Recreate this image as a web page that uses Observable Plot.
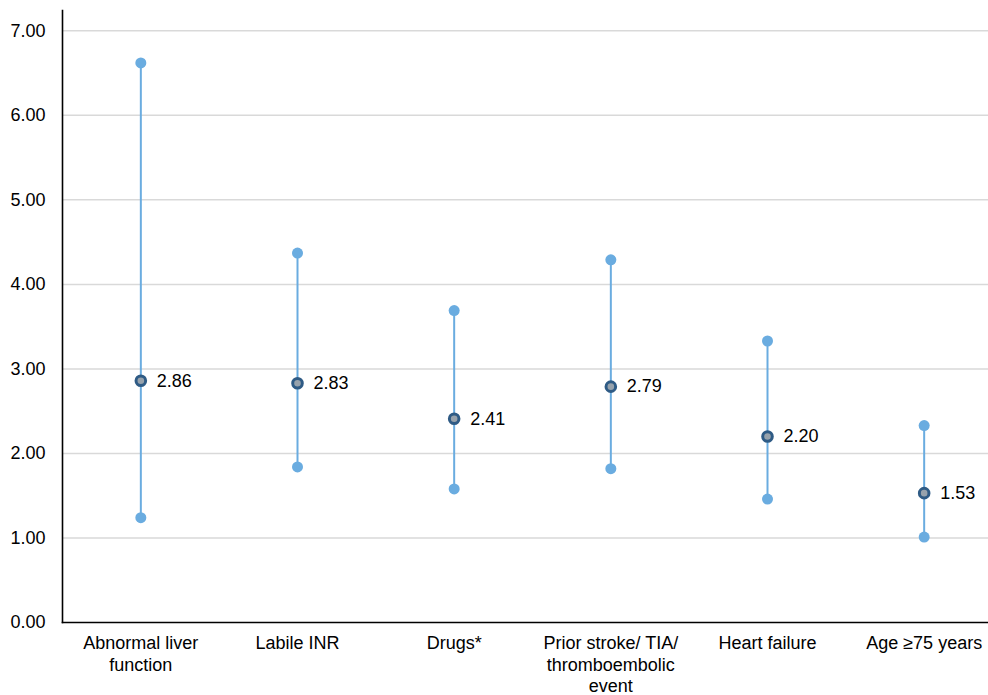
<!DOCTYPE html>
<html>
<head>
<meta charset="utf-8">
<script src="https://cdn.jsdelivr.net/npm/d3@7"></script>
<script src="https://cdn.jsdelivr.net/npm/@observablehq/plot@0.6"></script>
<style>
  html, body { margin: 0; padding: 0; background: #fff; }
  svg { font-family: "Liberation Sans", Arial, sans-serif; }
</style>
</head>
<body>
<div id="chart"></div>
<script>
const categories = ["Abnormal liver\nfunction", "Labile INR", "Drugs*", "Prior stroke/ TIA/\nthromboembolic\nevent", "Heart failure", "Age \u226575 years"];
const estimates = [2.86, 2.83, 2.41, 2.79, 2.20, 1.53];
const lower = [1.24, 1.84, 1.58, 1.82, 1.46, 1.01];
const upper = [6.62, 4.37, 3.69, 4.29, 3.33, 2.33];
const yTicks = [0, 1, 2, 3, 4, 5, 6, 7];

const data = categories.map((c, i) => ({cat: c, est: estimates[i], lo: lower[i], hi: upper[i]}));
const blue = "#6aace0";

const chart = Plot.plot({
  width: 988,
  height: 695,
  marginLeft: 62,
  marginRight: 0,
  marginTop: 10,
  marginBottom: 73,
  style: {fontFamily: "'Liberation Sans', Arial, sans-serif", fontSize: "18px", color: "#000", background: "#fff"},
  x: {type: "point", domain: categories, range: [62, 1002], padding: 0.5, round: false, label: null},
  y: {domain: [0, 7.24], label: null},
  marks: [
    Plot.ruleY(yTicks.filter(d => d > 0), {stroke: "#d9d9d9", strokeWidth: 1.5}),
    Plot.axisY({ticks: yTicks, tickFormat: d => d.toFixed(2), tickSize: 0, tickPadding: 17, fontSize: 18, fill: "#000", label: null}),
    Plot.axisX({tickSize: 0, tickPadding: 12, fontSize: 18, lineHeight: 1.17, fill: "#000", label: null}),
    Plot.frame({anchor: "left", stroke: "#000", strokeWidth: 1.6}),
    Plot.frame({anchor: "bottom", stroke: "#000", strokeWidth: 1.6}),
    Plot.ruleX(data, {x: "cat", y1: "lo", y2: "hi", stroke: blue, strokeWidth: 2}),
    Plot.dot(data, {x: "cat", y: "lo", r: 5.5, fill: blue}),
    Plot.dot(data, {x: "cat", y: "hi", r: 5.5, fill: blue}),
    Plot.dot(data, {x: "cat", y: "est", r: 4.8, fill: "#97a2ac", stroke: "#2f5b85", strokeWidth: 3}),
    Plot.text(data, {x: "cat", y: "est", text: d => d.est.toFixed(2), dx: 16, textAnchor: "start", fontSize: 18, fill: "#000"})
  ]
});
document.getElementById("chart").appendChild(chart);
</script>
</body>
</html>
